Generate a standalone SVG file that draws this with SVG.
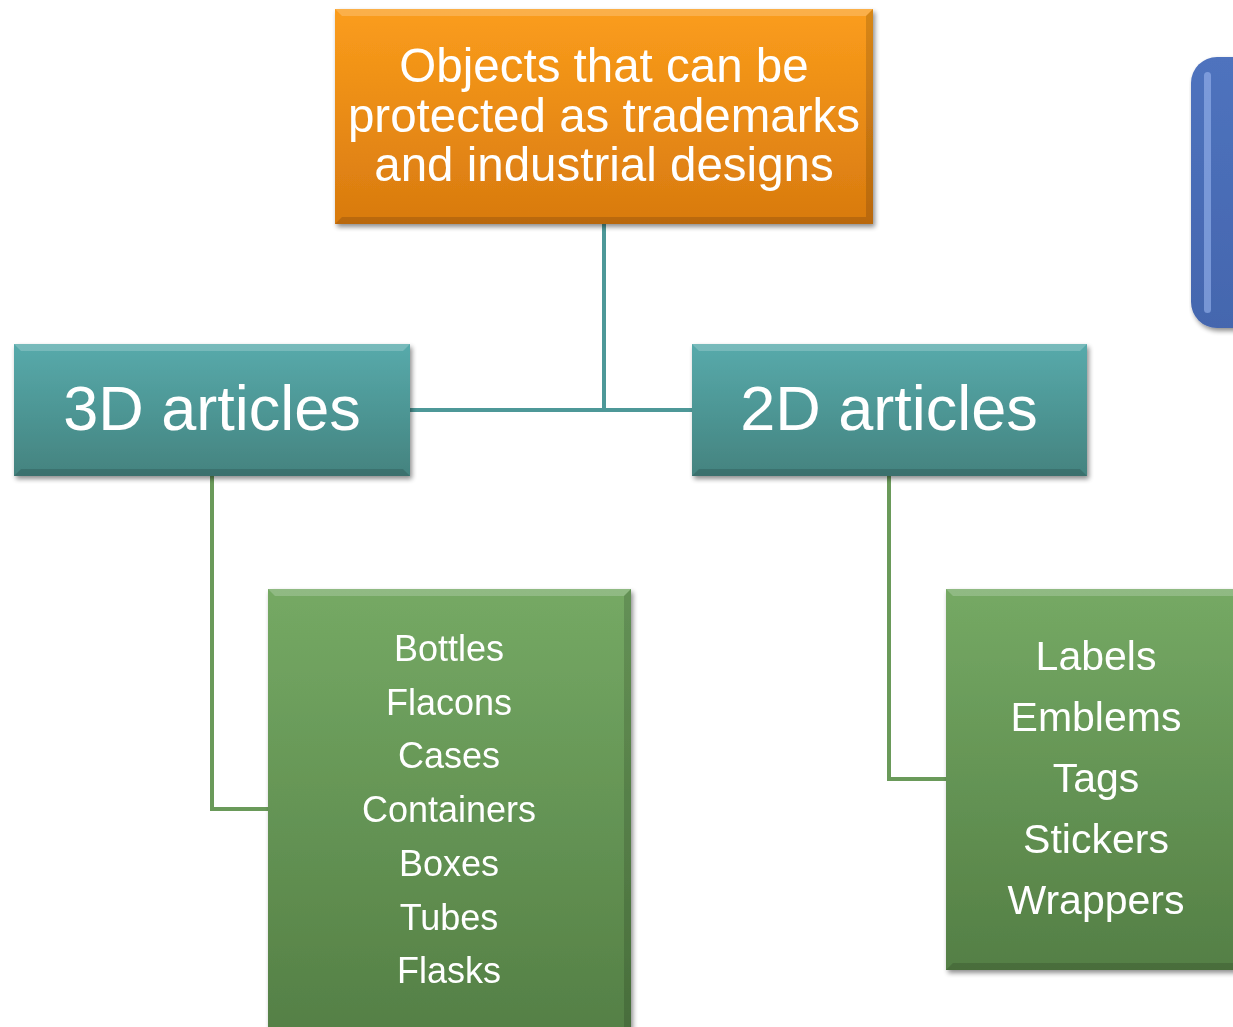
<svg xmlns="http://www.w3.org/2000/svg" width="1233" height="1027" viewBox="0 0 1233 1027">
<defs>
<linearGradient id="gOrange" x1="0" y1="0" x2="0" y2="1"><stop offset="0" stop-color="#fb9d1c"/><stop offset="1" stop-color="#d87a0f"/></linearGradient>
<linearGradient id="gTeal" x1="0" y1="0" x2="0" y2="1"><stop offset="0" stop-color="#57aaab"/><stop offset="1" stop-color="#44837f"/></linearGradient>
<linearGradient id="gGreen" x1="0" y1="0" x2="0" y2="1"><stop offset="0" stop-color="#75a964"/><stop offset="1" stop-color="#547f45"/></linearGradient>
<linearGradient id="gBlue" x1="0" y1="0" x2="0" y2="1"><stop offset="0" stop-color="#4f73be"/><stop offset="1" stop-color="#4466ae"/></linearGradient>
<filter id="sh" x="-5%" y="-5%" width="115%" height="115%"><feGaussianBlur in="SourceAlpha" stdDeviation="2.5"/><feOffset dx="2" dy="3"/><feComponentTransfer><feFuncA type="linear" slope="0.45"/></feComponentTransfer><feMerge><feMergeNode/><feMergeNode in="SourceGraphic"/></feMerge></filter>
</defs>
<style>
.t{font-family:"Liberation Sans",Arial,sans-serif;fill:#ffffff;text-anchor:middle}
.hi{fill:#ffffff;opacity:0.2}
.lo{fill:#000000;opacity:0.14}
.c1{fill:none;stroke:#4d9898;stroke-width:4}
.c2{fill:none;stroke:#6a9a5a;stroke-width:4}
</style>
<rect width="1233" height="1027" fill="#ffffff"/>
<g id="connectors">
<path class="c1" d="M604 224 V410 M410 410 H692"/>
<path class="c2" d="M212 476 V809 H268"/>
<path class="c2" d="M889 476 V779 H946"/>
</g>
<g id="blue-box" filter="url(#sh)">
<rect x="1191" y="57" width="80" height="271" rx="26" fill="url(#gBlue)"/>
<rect x="1204" y="72" width="7" height="241" rx="3.5" fill="#9ab6ef" opacity="0.6"/>
</g>
<g id="top" filter="url(#sh)">
<rect x="335" y="9" width="538" height="215" fill="url(#gOrange)"/>
<polygon class="hi" points="335,9 873,9 866,16 342,16"/>
<polygon class="lo" points="335,224 873,224 866,217 342,217"/>
<polygon class="lo" points="873,9 873,224 866,217 866,16" opacity="0.08"/>
<text class="t" x="604" y="82" font-size="47.5">Objects that can be</text>
<text class="t" x="604" y="131.5" font-size="47.5">protected as trademarks</text>
<text class="t" x="604" y="181" font-size="47.5">and industrial designs</text>
</g>
<g id="n3d" filter="url(#sh)">
<rect x="14" y="344" width="396" height="132" fill="url(#gTeal)"/>
<polygon class="hi" points="14,344 410,344 403,351 21,351"/>
<polygon class="lo" points="14,476 410,476 403,469 21,469"/>
<text class="t" x="212" y="430" font-size="63">3D articles</text>
</g>
<g id="n2d" filter="url(#sh)">
<rect x="692" y="344" width="395" height="132" fill="url(#gTeal)"/>
<polygon class="hi" points="692,344 1087,344 1080,351 699,351"/>
<polygon class="lo" points="692,476 1087,476 1080,469 699,469"/>
<text class="t" x="889" y="430" font-size="63">2D articles</text>
</g>
<g id="list3d" filter="url(#sh)">
<rect x="268" y="589" width="363" height="450" fill="url(#gGreen)"/>
<polygon class="hi" points="268,589 631,589 624,596 275,596"/>
<polygon class="lo" points="631,589 631,1039 624,1032 624,596" opacity="0.08"/>
<text class="t" x="449" y="661" font-size="36">Bottles</text>
<text class="t" x="449" y="715" font-size="36">Flacons</text>
<text class="t" x="449" y="768" font-size="36">Cases</text>
<text class="t" x="449" y="822" font-size="36">Containers</text>
<text class="t" x="449" y="876" font-size="36">Boxes</text>
<text class="t" x="449" y="930" font-size="36">Tubes</text>
<text class="t" x="449" y="983" font-size="36">Flasks</text>
</g>
<g id="list2d" filter="url(#sh)">
<rect x="946" y="589" width="300" height="381" fill="url(#gGreen)"/>
<polygon class="hi" points="946,589 1246,589 1239,596 953,596"/>
<polygon class="lo" points="946,970 1246,970 1239,963 953,963"/>
<text class="t" x="1096" y="670" font-size="41">Labels</text>
<text class="t" x="1096" y="731" font-size="41">Emblems</text>
<text class="t" x="1096" y="792" font-size="41">Tags</text>
<text class="t" x="1096" y="853" font-size="41">Stickers</text>
<text class="t" x="1096" y="914" font-size="41">Wrappers</text>
</g>
</svg>
